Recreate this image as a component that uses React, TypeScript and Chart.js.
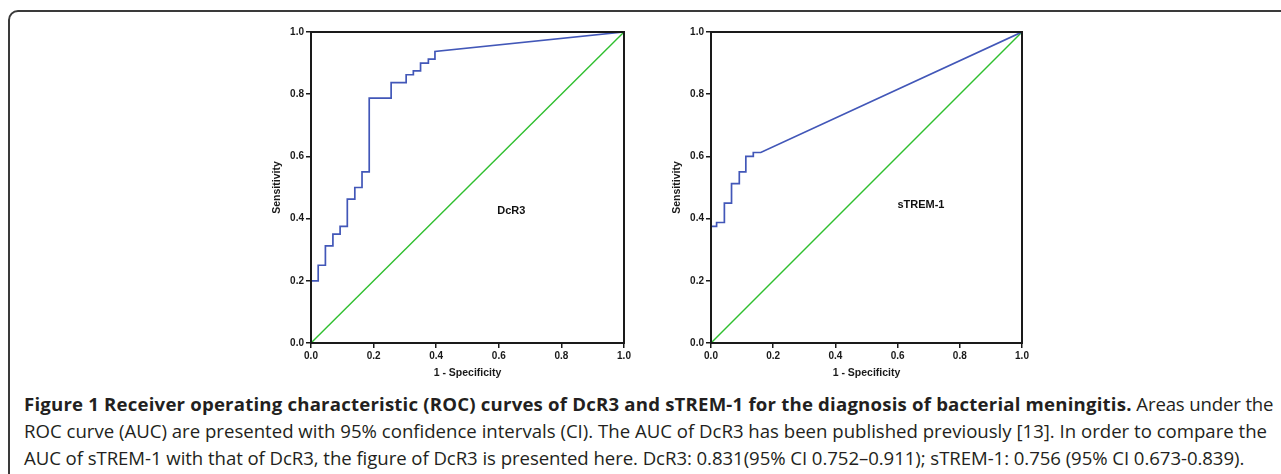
import React, { useEffect, useRef } from 'react';
import { Chart, registerables } from 'chart.js';

Chart.register(...registerables);

// ---- data ----
const tickValues = [0, 0.2, 0.4, 0.6, 0.8, 1.0];
const xTitle = '1 - Specificity';
const yTitle = 'Sensitivity';

// DcR3 ROC: step vertices (1 - specificity, sensitivity)
const dcr3Fpr = [0, 0.023, 0.046, 0.07, 0.093, 0.116, 0.14, 0.163, 0.186, 0.256, 0.304, 0.327, 0.35, 0.375, 0.396];
const dcr3Tpr = [0.2, 0.25, 0.3125, 0.35, 0.375, 0.4625, 0.5, 0.55, 0.7875, 0.8375, 0.8625, 0.875, 0.9, 0.9125, 0.9375];

// sTREM-1 ROC
const stremFpr = [0, 0.018, 0.043, 0.066, 0.091, 0.112, 0.136, 0.16];
const stremTpr = [0.375, 0.3875, 0.45, 0.5125, 0.55, 0.6, 0.6125, 0.6125];

// reference (chance) line
const refLine = [0, 1];

const captionBold = 'Figure 1 Receiver operating characteristic (ROC) curves of DcR3 and sTREM-1 for the diagnosis of bacterial meningitis.';
const captionLines = [
  ' Areas under the',
  'ROC curve (AUC) are presented with 95% confidence intervals (CI). The AUC of DcR3 has been published previously [13]. In order to compare the',
  'AUC of sTREM-1 with that of DcR3, the figure of DcR3 is presented here. DcR3: 0.831(95% CI 0.752\u20130.911); sTREM-1: 0.756 (95% CI 0.673-0.839).',
];

function buildRoc(fpr: number[], tpr: number[]) {
  const pts: { x: number; y: number }[] = [{ x: 0, y: 0 }];
  let prev = 0;
  fpr.forEach((f, i) => {
    pts.push({ x: f, y: prev });
    pts.push({ x: f, y: tpr[i] });
    prev = tpr[i];
  });
  pts.push({ x: 1, y: 1 });
  return pts;
}

const AX_FONT = { family: '"Liberation Sans", Arial, sans-serif', size: 10, weight: 'bold' as const };
const TITLE_FONT = { family: '"Liberation Sans", Arial, sans-serif', size: 10.5, weight: 'bold' as const };

type Props = {
  fpr: number[];
  tpr: number[];
  label: string;
  labelX: number;
  labelY: number;
  left: number;
  plotWidth: number;
};

function RocChart({ fpr, tpr, label, labelX, labelY, left, plotWidth }: Props) {
  const ref = useRef<HTMLCanvasElement | null>(null);
  const yAxisW = 61;
  const padTop = 10;
  const padRight = 12;
  const xAxisH = 40;
  const plotH = 311;
  const width = yAxisW + plotWidth + padRight;
  const height = padTop + plotH + xAxisH;

  useEffect(() => {
    if (!ref.current) return;
    const framePlugin = {
      id: 'frameAndLabel',
      afterDatasetsDraw(chart: any) {
        const { ctx, chartArea, scales } = chart;
        ctx.save();
        ctx.strokeStyle = '#1a1a1a';
        ctx.lineWidth = 2;
        ctx.strokeRect(chartArea.left, chartArea.top, chartArea.right - chartArea.left, chartArea.bottom - chartArea.top);
        ctx.fillStyle = '#111';
        ctx.font = 'bold 11px "Liberation Sans", Arial, sans-serif';
        ctx.textAlign = 'center';
        ctx.textBaseline = 'middle';
        ctx.fillText(label, scales.x.getPixelForValue(labelX), scales.y.getPixelForValue(labelY));
        ctx.restore();
      },
    };
    const chart = new Chart(ref.current, {
      type: 'scatter',
      data: {
        datasets: [
          {
            data: buildRoc(fpr, tpr),
            showLine: true,
            borderColor: '#4257b8',
            borderWidth: 1.7,
            pointRadius: 0,
            tension: 0,
            fill: false,
          },
          {
            data: refLine.map((v) => ({ x: v, y: v })),
            showLine: true,
            borderColor: '#2fbf2f',
            borderWidth: 1.4,
            pointRadius: 0,
            tension: 0,
            fill: false,
          },
        ],
      },
      options: {
        responsive: false,
        animation: false,
        layout: { padding: { top: padTop, right: padRight, left: 0, bottom: 0 } },
        plugins: { legend: { display: false }, tooltip: { enabled: false } },
        scales: {
          x: {
            type: 'linear',
            min: 0,
            max: 1,
            afterBuildTicks: (s: any) => {
              s.ticks = tickValues.map((v) => ({ value: v }));
            },
            afterFit: (s: any) => {
              s.height = xAxisH;
            },
            ticks: {
              color: '#1a1a1a',
              font: AX_FONT,
              padding: 2,
              maxRotation: 0,
              callback: (v: any) => Number(v).toFixed(1),
            },
            grid: { drawOnChartArea: false, drawTicks: true, tickLength: 5, color: '#1a1a1a', lineWidth: 1.5 },
            border: { display: false },
            title: { display: true, text: xTitle, color: '#1a1a1a', font: TITLE_FONT, padding: { top: 0, bottom: 4 } },
          },
          y: {
            type: 'linear',
            min: 0,
            max: 1,
            afterBuildTicks: (s: any) => {
              s.ticks = tickValues.map((v) => ({ value: v }));
            },
            afterFit: (s: any) => {
              s.width = yAxisW;
            },
            ticks: {
              color: '#1a1a1a',
              font: AX_FONT,
              padding: 2,
              callback: (v: any) => Number(v).toFixed(1),
            },
            grid: { drawOnChartArea: false, drawTicks: true, tickLength: 5, color: '#1a1a1a', lineWidth: 1.5 },
            border: { display: false },
            title: { display: true, text: yTitle, color: '#1a1a1a', font: TITLE_FONT, padding: { top: 21, bottom: 0 } },
          },
        },
      },
      plugins: [framePlugin],
    } as any);
    return () => chart.destroy();
  }, []);

  return (
    <canvas
      ref={ref}
      width={width}
      height={height}
      style={{ position: 'absolute', left, top: 32 - padTop, width, height }}
    />
  );
}

export default function App() {
  return (
    <div
      style={{
        position: 'absolute',
        left: 0,
        top: 0,
        width: 1281,
        height: 474,
        overflow: 'hidden',
        background: '#fff',
      }}
    >
      <div
        style={{
          position: 'absolute',
          left: 8,
          top: 10,
          width: 1320,
          height: 490,
          border: '2px solid #3a3a3a',
          borderRadius: 10,
          boxSizing: 'border-box',
        }}
      />
      <RocChart fpr={dcr3Fpr} tpr={dcr3Tpr} label="DcR3" labelX={0.64} labelY={0.425} left={250} plotWidth={313} />
      <RocChart fpr={stremFpr} tpr={stremTpr} label="sTREM-1" labelX={0.675} labelY={0.445} left={650} plotWidth={311} />
      <div
        style={{
          position: 'absolute',
          left: 24,
          top: 390,
          fontFamily: '"Open Sans", "Noto Sans", sans-serif',
          fontSize: 18.6,
          lineHeight: '27px',
          color: '#231f20',
          whiteSpace: 'nowrap',
        }}
      >
        <div>
          <span style={{ fontWeight: 700, letterSpacing: '0.2px' }}>{captionBold}</span>
          <span style={{ letterSpacing: '-0.15px' }}>{captionLines[0]}</span>
        </div>
        <div>{captionLines[1]}</div>
        <div style={{ letterSpacing: '-0.06px' }}>{captionLines[2]}</div>
      </div>
    </div>
  );
}
